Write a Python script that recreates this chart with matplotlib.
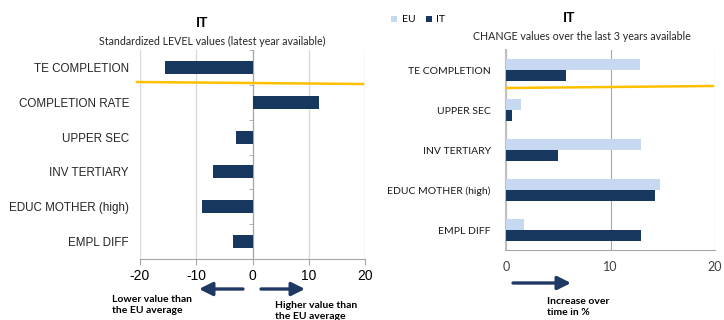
import matplotlib
matplotlib.use("Agg")
import matplotlib.pyplot as plt
import numpy as np

# level chart (standardized values vs EU average)
level_cats = ["TE COMPLETION", "COMPLETION RATE", "UPPER SEC", "INV TERTIARY",
              "EDUC MOTHER (high)", "EMPL DIFF"]
level_it = [-15.5, 11.8, -2.9, -7.1, -8.9, -3.4]

# change chart (last 3 years)
change_cats = ["TE COMPLETION", "UPPER SEC", "INV TERTIARY", "EDUC MOTHER (high)", "EMPL DIFF"]
change_eu = [12.8, 1.4, 12.9, 14.7, 1.7]
change_it = [5.7, 0.55, 5.0, 14.3, 12.9]

level_ticks = [-20, -10, 0, 10, 20]
change_ticks = [0, 10, 20]

NAVY = "#17375E"
LIGHT = "#C6D9F1"
GOLD = "#FFC000"
ARROW = "#1F3864"
calibri = ["Lato", "DejaVu Sans"]
arial = ["Liberation Sans", "DejaVu Sans"]

fig = plt.figure(figsize=(7.24, 3.2), dpi=100)

# ---- left panel ----
ax1 = fig.add_axes([140 / 724, 61 / 320, 225 / 724, 209 / 320])
# move the right spine to x=0 first: set_position resets the y ticks
ax1.spines["right"].set_position(("data", 0))
ax1.spines["right"].set_color("#A6A6A6")
ax1.spines["top"].set_visible(False)
ax1.spines["left"].set_visible(False)
ax1.spines["bottom"].set_color("#A6A6A6")

y1 = np.arange(len(level_cats))
ax1.barh(y1, level_it, height=0.37, color=NAVY, zorder=3)
ax1.set_xlim(-20, 20)
ax1.set_ylim(len(level_cats) - 0.5, -0.5)
ax1.set_xticks(level_ticks)
ax1.set_xticklabels([str(t) for t in level_ticks], fontsize=10, family=arial)
ax1.tick_params(axis="x", length=4, color="#A6A6A6", pad=3)
ax1.grid(axis="x", color="#D9D9D9", lw=1, zorder=0)
ax1.set_yticks(y1)
ax1.set_yticklabels(level_cats, fontsize=8.4, family=arial, color="#262626")
ax1.tick_params(axis="y", which="major", length=0, pad=8, right=False)
ax1.set_yticks(np.arange(-0.5, len(level_cats)), minor=True)
ax1.tick_params(axis="y", which="minor", left=False, right=True, direction="in",
                length=3, color="#A6A6A6")

fig.text(202 / 724, 1 - 23 / 320, "IT", ha="center", va="center", fontsize=10,
         fontweight="bold", family=calibri)
fig.text(212 / 724, 1 - 41 / 320, "Standardized LEVEL values (latest year available)",
         ha="center", va="center", fontsize=7.7, family=calibri, color="#262626")

# ---- right panel ----
ax2 = fig.add_axes([506 / 724, 70 / 320, 209 / 724, 200 / 320])
y2 = np.arange(len(change_cats))
bh = 0.27
ax2.barh(y2 - bh / 2, change_eu, height=bh, color=LIGHT, zorder=3, label="EU")
ax2.barh(y2 + bh / 2, change_it, height=bh, color=NAVY, zorder=3, label="IT")
ax2.set_xlim(0, 20)
ax2.set_ylim(len(change_cats) - 0.5, -0.5)
ax2.set_xticks(change_ticks)
ax2.set_xticklabels([str(t) for t in change_ticks], fontsize=9, family=calibri,
                    color="#404040")
ax2.tick_params(axis="x", length=0, pad=8)
ax2.grid(axis="x", color="#A6A6A6", lw=0.8, zorder=0)
ax2.set_yticks(y2)
ax2.set_yticklabels(change_cats, fontsize=7.5, family=calibri, color="#1A1A1A")
ax2.tick_params(axis="y", length=0, pad=11)
ax2.spines["top"].set_visible(False)
ax2.spines["right"].set_visible(False)
ax2.spines["left"].set_color("#BFBFBF")
ax2.spines["left"].set_linewidth(1.5)
ax2.spines["bottom"].set_color("#A6A6A6")

fig.legend(loc="center left", bbox_to_anchor=(386 / 724, 1 - 20 / 320), ncol=2,
           frameon=False, prop={"family": calibri, "size": 7.5},
           handlelength=0.6, handleheight=0.6, handletextpad=0.4, columnspacing=1.0,
           borderpad=0)
fig.text(569 / 724, 1 - 18 / 320, "IT", ha="center", va="center", fontsize=10,
         fontweight="bold", family=calibri)
fig.text(582 / 724, 1 - 37 / 320, "CHANGE values over the last 3 years available",
         ha="center", va="center", fontsize=7.7, family=calibri, color="#262626")

# ---- threshold lines ----
fig.add_artist(plt.Line2D([137 / 724, 363 / 724], [1 - 82 / 320, 1 - 84 / 320],
                          color=GOLD, lw=1.8))
fig.add_artist(plt.Line2D([507 / 724, 713 / 724], [1 - 88 / 320, 1 - 86 / 320],
                          color=GOLD, lw=1.8))

# ---- arrows and notes ----
def arrow(x0, x1, y):
    fig.add_artist(matplotlib.patches.FancyArrowPatch(
        (x0 / 724, 1 - y / 320), (x1 / 724, 1 - y / 320), transform=fig.transFigure,
        arrowstyle="-|>,head_length=8,head_width=4", color=ARROW, lw=2.4,
        mutation_scale=1, shrinkA=0, shrinkB=0))

arrow(243, 199, 289)
arrow(261, 305, 289)
arrow(513, 571, 283)

fig.text(112 / 724, 1 - 305 / 320, "Lower value than\nthe EU average", ha="left",
         va="center", fontsize=7.5, fontweight="bold", family=calibri, linespacing=1.3)
fig.text(275 / 724, 1 - 311 / 320, "Higher value than\nthe EU average", ha="left",
         va="center", fontsize=7.5, fontweight="bold", family=calibri, linespacing=1.3)
fig.text(547 / 724, 1 - 307 / 320, "Increase over\ntime in %", ha="left",
         va="center", fontsize=7.5, fontweight="bold", family=calibri, linespacing=1.3)

fig.savefig("out.png", dpi=100)
